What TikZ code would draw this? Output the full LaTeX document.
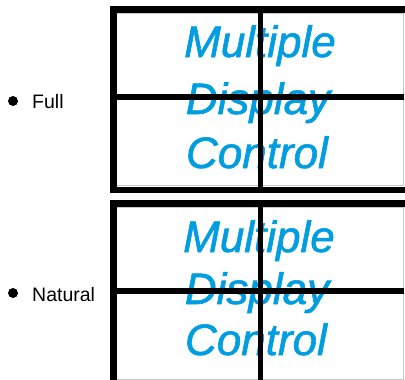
\documentclass[tikz,border=0pt]{standalone}
\usepackage{fontspec}
\setmainfont{Liberation Sans}
\newfontfamily\mdcfont[FakeBold=1.4]{Liberation Sans}
\definecolor{mdcblue}{RGB}{0,158,224}

\begin{document}
\begin{tikzpicture}[x=1pt,y=-1pt,
    frame/.style={line width=6.5pt},
    inner_rim/.style={draw=black!22,line width=0.9pt},
    divider/.style={line width=5.6pt},
    mdc_text/.style={font=\fontsize{44}{44}\mdcfont\itshape,text=mdcblue,anchor=base,inner sep=0pt},
    mode_dot/.style={circle,fill=black,minimum size=10pt,inner sep=0pt},
    mode_lbl/.style={font=\fontsize{19.5}{20}\selectfont,anchor=base west,inner sep=0pt}]
    \clip (0,0) rectangle (405,380);

    %%%%%%%%%%%%%%%%%%%% Full
    \node[mode_dot] (full_dot) at (13,101) {};
    \node[mode_lbl] (full_lbl) at (32,108) {Full};

    \draw[inner_rim] (116.5,13) rectangle (403.5,185.5);
    \node[mdc_text] (full_l1) at (260,57) {Multiple};
    \node[mdc_text] (full_l2) at (258,114) {Display};
    \node[mdc_text] (full_l3) at (257,168) {Control};
    \draw[divider] (260.5,12) -- (260.5,187);
    \draw[divider] (116,96.7) -- (404,96.7);
    \draw[frame] (113.25,9.25) rectangle (409,189.75);

    %%%%%%%%%%%%%%%%%%%% Natural
    \node[mode_dot] (nat_dot) at (13,293) {};
    \node[mode_lbl] (nat_lbl) at (32,301) {Natural};

    \draw[inner_rim] (116.5,207) rectangle (403.5,379);
    \node[mdc_text] (nat_l1) at (259,252) {Multiple};
    \node[mdc_text] (nat_l2) at (257,304) {Display};
    \node[mdc_text] (nat_l3) at (256,355) {Control};
    \draw[divider] (260.5,206) -- (260.5,380);
    \draw[divider] (116,291) -- (404,291);
    \draw[frame] (113.25,203.25) rectangle (409,384);
\end{tikzpicture}
\end{document}
